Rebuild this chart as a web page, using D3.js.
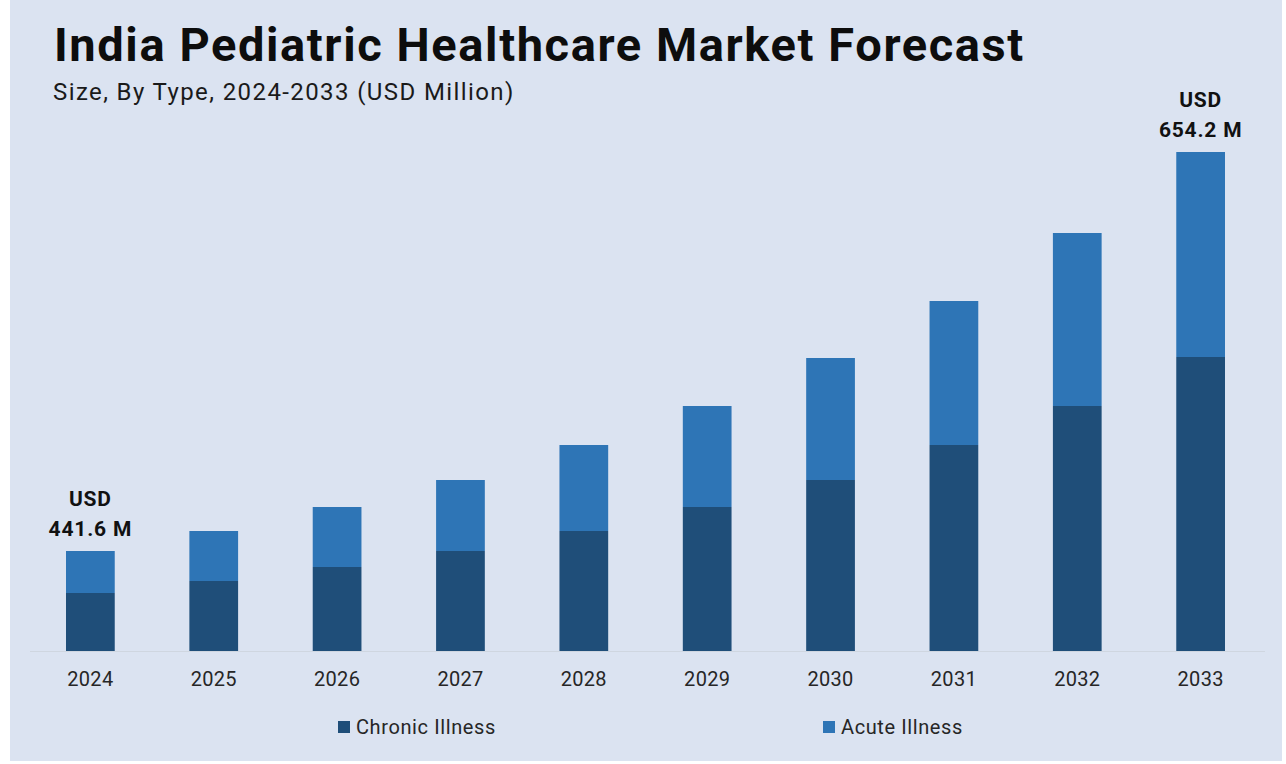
<!DOCTYPE html>
<html>
<head>
<meta charset="utf-8">
<script src="https://cdn.jsdelivr.net/npm/d3@7"></script>
<style>
  html, body { margin: 0; padding: 0; background: #ffffff; }
  svg { display: block; font-family: Roboto, "Noto Sans", sans-serif; }
</style>
</head>
<body>
<div id="chart"></div>
<script>
// values (bar heights, chart units)
var years = ["2024", "2025", "2026", "2027", "2028", "2029", "2030", "2031", "2032", "2033"]
var chronic = [58, 70, 84, 100, 120, 144, 171, 206, 245, 294]
var acute = [42, 50, 60, 71, 86, 101, 122, 144, 173, 205]
var seriesNames = ["Chronic Illness", "Acute Illness"]
var colors = ["#1f4e79", "#2e75b6"]
var callouts = [
  { year: "2024", lines: ["USD", "441.6 M"] },
  { year: "2033", lines: ["USD", "654.2 M"] }
]

var width = 1286,
  height = 764

var svg = d3.select("#chart")
  .append("svg")
  .attr("width", width)
  .attr("height", height)

// panel
svg.append("rect")
  .attr("x", 10)
  .attr("y", 0)
  .attr("width", 1272)
  .attr("height", 761)
  .attr("fill", "#dbe3f1")

svg.append("text")
  .attr("x", 54)
  .attr("y", 61)
  .attr("font-size", 47)
  .attr("font-weight", 700)
  .attr("letter-spacing", 1.6)
  .attr("fill", "#0d0d0d")
  .text("India Pediatric Healthcare Market Forecast")

svg.append("text")
  .attr("x", 53)
  .attr("y", 100)
  .attr("font-size", 24)
  .attr("letter-spacing", 1.4)
  .attr("fill", "#1a1a1a")
  .text("Size, By Type, 2024-2033 (USD Million)")

var table = years.map(function (y, i) {
  return { year: y, chronic: chronic[i], acute: acute[i] }
})

var stack = d3.stack().keys(["chronic", "acute"])(table)

var x = d3.scaleBand()
  .domain(years)
  .range([29, 1262])
  .paddingInner(0.605)
  .paddingOuter(0.3)

var y = d3.scaleLinear()
  .domain([0, d3.max(table, function (d) { return d.chronic + d.acute })])
  .range([651, 152])

// baseline
svg.append("line")
  .attr("x1", 30)
  .attr("x2", 1265)
  .attr("y1", 651.5)
  .attr("y2", 651.5)
  .attr("stroke", "#cfd6e0")
  .attr("stroke-width", 1)

svg.append("g")
  .selectAll("g")
  .data(stack)
  .enter()
  .append("g")
  .attr("fill", function (d, i) { return colors[i] })
  .selectAll("rect")
  .data(function (d) { return d })
  .enter()
  .append("rect")
  .attr("x", function (d) { return x(d.data.year) })
  .attr("y", function (d) { return y(d[1]) })
  .attr("width", x.bandwidth())
  .attr("height", function (d) { return y(d[0]) - y(d[1]) })

var xAxis = svg.append("g")
  .attr("transform", "translate(0,651)")
  .call(d3.axisBottom(x).tickSize(0).tickPadding(21))

xAxis.select(".domain").remove()
xAxis.selectAll("text")
  .attr("font-family", "Roboto, sans-serif")
  .attr("font-size", 20)
  .attr("letter-spacing", 0.3)
  .attr("fill", "#262626")

// callouts above first and last bar
callouts.forEach(function (c) {
  var i = years.indexOf(c.year)
  var top = y(chronic[i] + acute[i])
  var cx = x(c.year) + x.bandwidth() / 2
  c.lines.forEach(function (t, k) {
    svg.append("text")
      .attr("x", cx)
      .attr("y", top - 45 + k * 30)
      .attr("text-anchor", "middle")
      .attr("font-size", 21)
      .attr("font-weight", 700)
      .attr("letter-spacing", 0.8)
      .attr("fill", "#111")
      .text(t)
  })
})

// legend
var legendX = [338, 823]
seriesNames.forEach(function (name, i) {
  var g = svg.append("g").attr("transform", "translate(" + legendX[i] + ",721)")
  g.append("rect")
    .attr("width", 12)
    .attr("height", 12)
    .attr("fill", colors[i])
  g.append("text")
    .attr("x", 18)
    .attr("y", 13)
    .attr("font-size", 20)
    .attr("letter-spacing", 0.6)
    .attr("fill", "#262626")
    .text(name)
})
</script>
</body>
</html>
